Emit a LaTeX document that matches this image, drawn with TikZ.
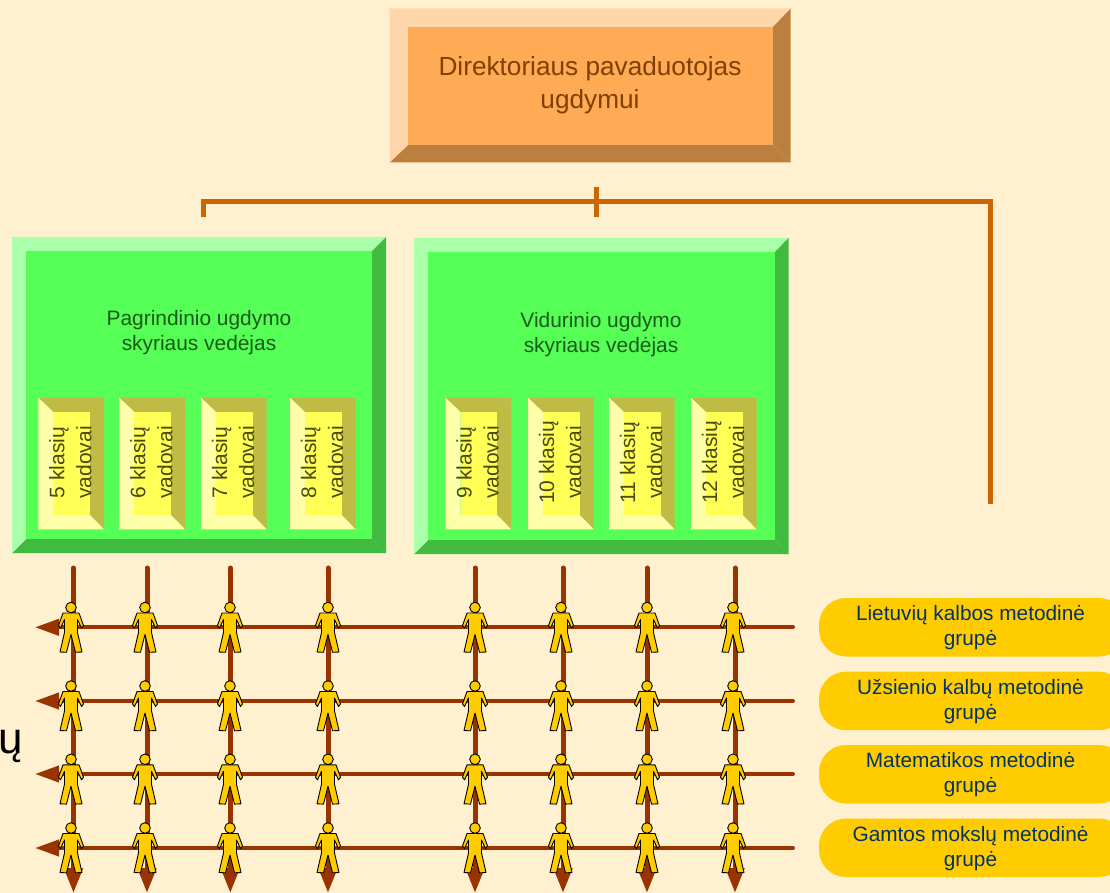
\documentclass[tikz,border=0pt]{standalone}
\usepackage{fontspec}
\setmainfont{Liberation Sans}
\usetikzlibrary{arrows.meta}
\definecolor{bg}{HTML}{FFF0CF}
\definecolor{orT}{HTML}{FFD5AA}\colorlet{orL}{orT}
\definecolor{orB}{HTML}{BB8040}\colorlet{orR}{orB}
\definecolor{orF}{HTML}{FFAA55}
\definecolor{grT}{HTML}{AAFFAA}\colorlet{grL}{grT}
\definecolor{grB}{HTML}{40BB40}\colorlet{grR}{grB}
\definecolor{grF}{HTML}{55FF55}
\definecolor{yeT}{HTML}{BFBB44}\colorlet{yeR}{yeT}
\definecolor{yeB}{HTML}{FFFFAA}\colorlet{yeL}{yeB}
\definecolor{yeF}{HTML}{FFFF55}
\definecolor{tree}{HTML}{CC6600}
\definecolor{grid}{HTML}{993300}
\definecolor{gold}{HTML}{FFCC00}
\definecolor{orText}{HTML}{804000}
\definecolor{grText}{HTML}{1A5A1A}
\definecolor{yeText}{HTML}{4A4A10}
\definecolor{pillText}{HTML}{003366}
% outer x0 y0 x1 y1, inner x0 y0 x1 y1, palette
\newcommand\bevbox[9]{%
  \fill[#9T] (#1,#2) -- (#3,#2) -- (#7,#6) -- (#5,#6) -- cycle;
  \fill[#9R] (#3,#2) -- (#3,#4) -- (#7,#8) -- (#7,#6) -- cycle;
  \fill[#9B] (#3,#4) -- (#1,#4) -- (#5,#8) -- (#7,#8) -- cycle;
  \fill[#9L] (#1,#4) -- (#1,#2) -- (#5,#6) -- (#5,#8) -- cycle;
  \fill[#9F] (#5,#6) rectangle (#7,#8);
}
\tikzset{
  treeline/.style={draw=tree,line width=5pt},
  gridv/.style={draw=grid,line width=5pt,line cap=round,-{Triangle[length=25pt,width=18pt]}},
  gridh/.style={draw=grid,line width=4pt,line cap=round,-{Triangle[length=24pt,width=16pt]}},
  pill/.style={fill=gold,rounded corners=27pt},
  pilltext/.style={text=pillText,align=center,font=\fontsize{20.8}{25}\selectfont},
  bigtext/.style={text=orText,align=center,font=\fontsize{26.2}{33}\selectfont},
  greentext/.style={text=grText,align=center,font=\fontsize{20.9}{25}\selectfont},
  smalltext/.style={text=yeText,align=center,rotate=90,inner sep=0pt,font=\fontsize{21}{27}\selectfont},
  person/.pic={
    \filldraw[fill=gold,draw=black,line width=0.9pt,line join=round]
      (-8,5.5) -- (-12.5,18) -- (-10.5,20.5) -- (-6.5,12) -- (-6.5,25) -- (-11,44.5) -- (-4.5,44.8)
      -- (0,27) -- (4.5,44.8) -- (11,44.5) -- (6.5,25) -- (6.5,12) -- (10.5,20.5) -- (12.5,18) -- (8,5.5) -- cycle;
    \filldraw[fill=gold,draw=black,line width=0.9pt] (0,0) circle (5.3);
  }
}
\begin{document}
\begin{tikzpicture}[x=1pt,y=-1pt]
\useasboundingbox (0,0) rectangle (1110,893);
\clip (0,0) rectangle (1110,893);
\fill[bg] (0,0) rectangle (1110,893);

\node[text=black,inner sep=0pt,anchor=base,font=\fontsize{44}{44}\selectfont] (stray) at (11,753) {ų};

% top box
\bevbox{389.5}{8.5}{790.7}{162.5}{408}{27}{773}{145}{or}
\node[bigtext] (dir) at (590,85) {Direktoriaus pavaduotojas\\ugdymui};

% tree
\coordinate (tl) at (203,202);
\coordinate (tld) at (203,217);
\coordinate (tr) at (990,202);
\coordinate (trd) at (990,504);
\coordinate (tct) at (596.5,187);
\coordinate (tcb) at (596.5,217);
\draw[treeline,line join=miter] (tld) -- (tl) -- (tr) -- (trd);
\draw[treeline] (tct) -- (tcb);

% green boxes
\bevbox{12}{237}{386}{553}{26}{251}{372}{539}{gr}
\bevbox{414}{238}{788.5}{554}{428}{252}{775}{540}{gr}
\node[greentext] (pag) at (199,332.5) {Pagrindinio ugdymo\\skyriaus vedėjas};
\node[greentext] (vid) at (601,334.5) {Vidurinio ugdymo\\skyriaus vedėjas};

% class boxes
\foreach \x/\n in {38.3/5,119.3/6,201/7,290/8,445.5/9,528/10,609/11,691/12}{
  \pgfmathsetmacro{\xa}{\x+65.7}
  \pgfmathsetmacro{\xb}{\x+15}
  \pgfmathsetmacro{\xc}{\x+51.7}
  \pgfmathsetmacro{\xm}{\x+32}
  \bevbox{\x}{397.7}{\xa}{529.3}{\xb}{412}{\xc}{515}{ye}
  \node[smalltext] (k\n) at (\xm,462.5) {\n{} klasių\\vadovai};
}

% grid lines
\foreach \y [count=\r] in {627.3,701,774,848}{
  \coordinate (hs\r) at (793,\y);
  \coordinate (he\r) at (35,\y);
  \draw[gridh] (hs\r) -- (he\r);
}
\foreach \x [count=\c] in {73.5,147,230.3,328,475,563,647,735}{
  \coordinate (vs\c) at (\x,568);
  \coordinate (ve\c) at (\x,893);
  \draw[gridv] (vs\c) -- (ve\c);
}

% people
\foreach \y [count=\r] in {607.5,686,759.3,828}{
  \foreach \x [count=\c] in {71,145,230,328,475,561,647,733}{
    \pic (p\r\c) at (\x,\y) {person};
  }
}

% pills
\foreach \y/\t [count=\r] in {598/Lietuvių kalbos metodinė,671.7/Užsienio kalbų metodinė,745/Matematikos metodinė,818.5/Gamtos mokslų metodinė}{
  \pgfmathsetmacro{\yb}{\y+58.5}
  \pgfmathsetmacro{\ym}{\y+30}
  \fill[pill] (819,\y) rectangle (1126,\yb);
  \node[pilltext] (g\r) at (970.5,\ym) {\t\\grupė};
}
\end{tikzpicture}
\end{document}
